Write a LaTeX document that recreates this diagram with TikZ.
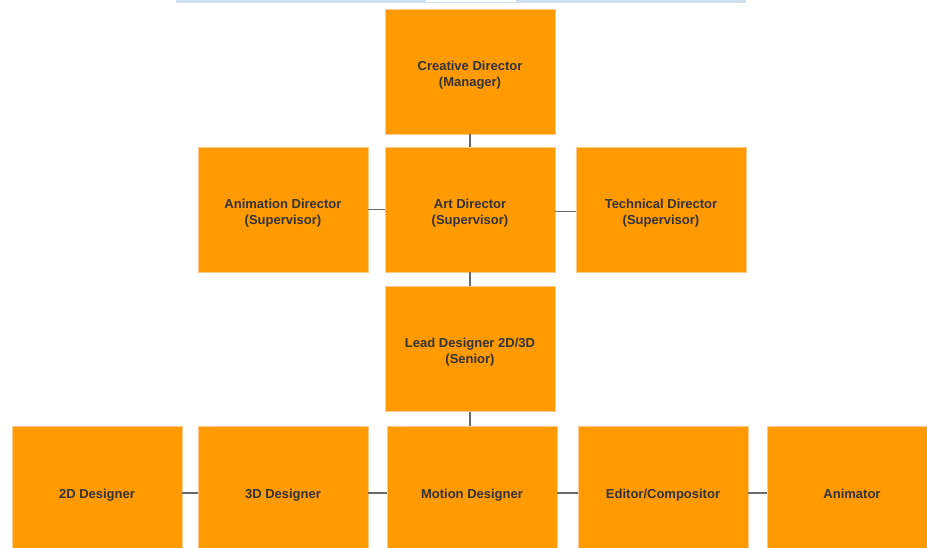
\documentclass[tikz,border=0pt]{standalone}
\usepackage{fontspec}
\setmainfont{Liberation Sans}
\definecolor{boxfill}{HTML}{FF9A00}
\definecolor{boxline}{HTML}{FFC98A}
\definecolor{txt}{HTML}{333333}
\definecolor{conn}{HTML}{6A6A6A}
\definecolor{topbar}{HTML}{CFE0EE}
\begin{document}
\begin{tikzpicture}[x=1pt,y=-1pt,
  box/.style={draw=boxline,line width=0.8pt,fill=boxfill,minimum width=170pt,minimum height=125pt,inner sep=0pt},
  lowbox/.style={box,minimum height=134pt},
  lbl/.style={inner sep=0pt,align=center,font=\fontsize{13}{16}\selectfont\bfseries,text=txt,yshift=-3.5pt},
  lblone/.style={inner sep=0pt,font=\fontsize{13}{16}\selectfont\bfseries,text=txt,
    yshift=-2pt,text height=10pt,text depth=3pt},
  link/.style={draw=conn,line width=1.6pt}]
\useasboundingbox (0,0) rectangle (927,548);
\clip (0,0) rectangle (927,548);
% partial top bar
\fill[topbar] (176,0) rectangle (746,3);
\fill[white] (426,0) rectangle (516,2);
% boxes
\node[box,label={[lbl]center:Creative Director\\(Manager)}] (cd) at (470,71.5) {};
\node[box,label={[lbl]center:Animation Director\\(Supervisor)}] (anim) at (283,209.5) {};
\node[box,label={[lbl]center:Art Director\\(Supervisor)}] (art) at (470,209.5) {};
\node[box,label={[lbl]center:Technical Director\\(Supervisor)}] (tech) at (661,209.5) {};
\node[box,label={[lbl]center:Lead Designer 2D/3D\\(Senior)}] (lead) at (470,349) {};
\node[lowbox,label={[lblone]center:2D Designer}] (d2) at (97,493) {};
\node[lowbox,label={[lblone]center:3D Designer}] (d3) at (283,493) {};
\node[lowbox,label={[lblone]center:Motion Designer}] (mot) at (472,493) {};
\node[lowbox,label={[lblone]center:Editor/Compositor}] (ed) at (663,493) {};
\node[lowbox,label={[lblone]center:Animator}] (ani) at (852,493) {};
% connectors
\path[link] (cd.south) -- (art.north);
\path[link] (anim.east) -- (art.west);
\path[link] ([yshift=-2pt]art.east) -- ([yshift=-2pt]tech.west);
\path[link] (art.south) -- (lead.north);
\path[link] (lead.south) -- (lead.south |- mot.north);
\path[link] (d2.east) -- (d3.west);
\path[link] (d3.east) -- (mot.west);
\path[link] (mot.east) -- (ed.west);
\path[link] (ed.east) -- (ani.west);
\end{tikzpicture}
\end{document}
